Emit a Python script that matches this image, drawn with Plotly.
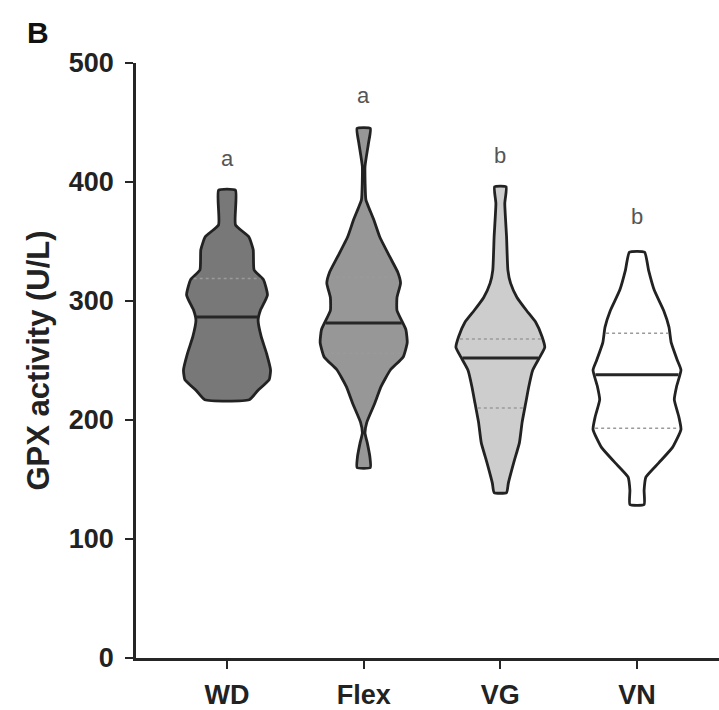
import numpy as np
import plotly.graph_objects as go

# ---------------- data ----------------
categories = ["WD", "Flex", "VG", "VN"]

# violin outlines: GPX activity levels (U/L) and relative density (0-1)
wd_levels = [393, 364, 354, 343, 326, 318, 305, 292, 284, 270, 256, 242, 234, 225, 217]
wd_density = [0.19, 0.19, 0.49, 0.59, 0.61, 0.82, 0.91, 0.75, 0.70, 0.77, 0.89, 0.98, 0.95, 0.70, 0.50]

flex_levels = [445, 433, 413, 385, 379, 368, 354, 337, 324, 315, 303, 292, 276, 265, 253, 242, 228, 214, 198, 189, 181, 169, 160]
flex_density = [0.15, 0.11, 0.03, 0.05, 0.11, 0.23, 0.36, 0.59, 0.77, 0.83, 0.75, 0.75, 0.95, 0.98, 0.89, 0.60, 0.39, 0.25, 0.07, 0.03, 0.08, 0.14, 0.15]

vg_levels = [396, 382, 354, 326, 315, 303, 292, 282, 270, 261, 253, 242, 228, 214, 198, 181, 164, 147, 139]
vg_density = [0.13, 0.10, 0.14, 0.17, 0.23, 0.375, 0.59, 0.80, 0.94, 1.0, 0.89, 0.73, 0.64, 0.57, 0.49, 0.43, 0.30, 0.18, 0.14]

vn_levels = [341, 326, 309, 292, 278, 265, 250, 242, 228, 217, 203, 192, 177, 164, 152, 141, 129]
vn_density = [0.17, 0.26, 0.39, 0.60, 0.72, 0.77, 0.91, 0.99, 0.89, 0.84, 0.94, 0.99, 0.80, 0.49, 0.20, 0.16, 0.16]

medians = [286.5, 281.5, 252, 238]
upper_quartiles = [319, 320, 268, 273]
lower_quartiles = [None, 256, 210, 193]

letters = ["a", "a", "b", "b"]
letter_levels = [420, 473, 422, 371]

y_ticks = [0, 100, 200, 300, 400, 500]

# ---------------- styling ----------------
fills = ["#787878", "#979797", "#cdcdcd", "#ffffff"]
outline = "#222222"
max_half = 0.325   # half-width of a density of 1, in category units

levels_all = [wd_levels, flex_levels, vg_levels, vn_levels]
dens_all = [wd_density, flex_density, vg_density, vn_density]

fig = go.Figure()

for i, (lv, dn) in enumerate(zip(levels_all, dens_all)):
    lv = np.array(lv, dtype=float)
    hw = np.array(dn, dtype=float) * max_half
    xs = np.concatenate([i + hw, (i - hw)[::-1], [i + hw[0]]])
    ys = np.concatenate([lv, lv[::-1], [lv[0]]])
    fig.add_trace(go.Scatter(
        x=xs, y=ys, mode="lines", fill="toself", fillcolor=fills[i],
        line=dict(color=outline, width=2.8, shape="spline", smoothing=0.45),
        hoverinfo="skip", showlegend=False))

    order = np.argsort(lv)

    def half_at(v):
        return float(np.interp(v, lv[order], hw[order]))

    # quartile lines
    for q in (upper_quartiles[i], lower_quartiles[i]):
        if q is None:
            continue
        h = half_at(q) - 0.014
        fig.add_trace(go.Scatter(
            x=[i - h, i + h], y=[q, q], mode="lines",
            line=dict(color="#9a9a9a", width=1.5, dash="dot"),
            hoverinfo="skip", showlegend=False))
    # median line
    h = half_at(medians[i]) - 0.008
    fig.add_trace(go.Scatter(
        x=[i - h, i + h], y=[medians[i], medians[i]], mode="lines",
        line=dict(color="#262626", width=3),
        hoverinfo="skip", showlegend=False))

# significance letters
for i, (t, lv) in enumerate(zip(letters, letter_levels)):
    fig.add_annotation(x=i, y=lv, xref="x", yref="y", text=t, showarrow=False,
                       font=dict(family="Liberation Sans, Arial", size=22, color="#555555"))

# panel label
fig.add_annotation(x=-0.168, y=1.052, xref="paper", yref="paper", text="<b>B</b>",
                   xanchor="center", yanchor="middle", showarrow=False,
                   font=dict(family="Liberation Sans, Arial", size=30, color="#111111"))

axis_font = dict(family="Liberation Sans, Arial", size=27, color="#222222")

fig.update_layout(
    width=719, height=710,
    margin=dict(l=136, r=0, t=63, b=52),
    paper_bgcolor="white", plot_bgcolor="white",
    xaxis=dict(
        range=[-0.666, 3.6], tickmode="array", tickvals=list(range(len(categories))),
        ticktext=["<b>%s</b>" % c for c in categories],
        showline=True, linecolor="#262626", linewidth=2.6,
        ticks="outside", ticklen=8, tickwidth=2.2, tickcolor="#262626",
        showgrid=False, zeroline=False, tickfont=axis_font, ticklabelstandoff=3,
    ),
    yaxis=dict(
        range=[0, 500], tickmode="array", tickvals=y_ticks,
        ticktext=["<b>%d</b>" % v for v in y_ticks],
        showline=True, linecolor="#262626", linewidth=2.6,
        ticks="outside", ticklen=8, tickwidth=2.2, tickcolor="#262626",
        showgrid=False, zeroline=False, tickfont=axis_font, ticklabelstandoff=6,
        title=dict(text="<b>GPX activity (U/L)</b>", standoff=10,
                   font=dict(family="Liberation Sans, Arial", size=31, color="#222222")),
    ),
)

fig.write_html("out.html")
